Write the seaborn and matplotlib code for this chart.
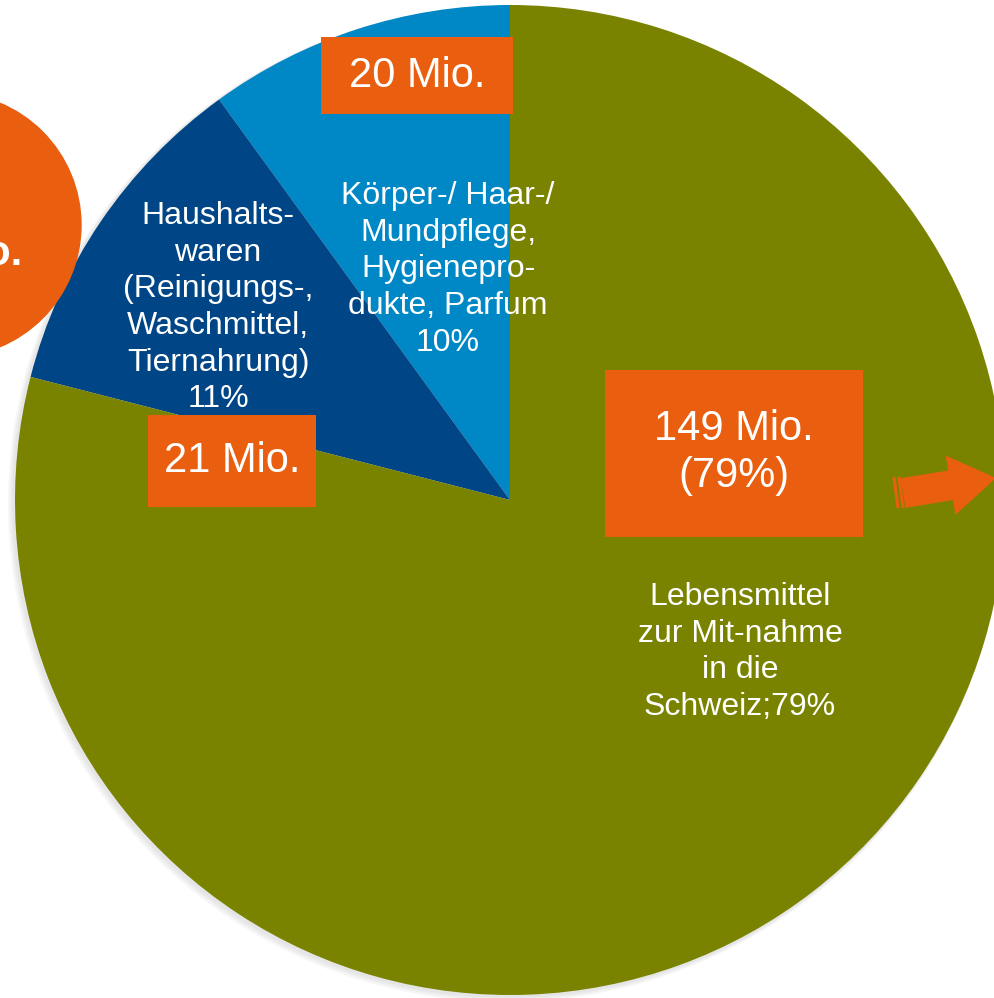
import matplotlib
matplotlib.use("Agg")
import matplotlib.pyplot as plt
from matplotlib.patches import Rectangle, Circle, FancyArrow
import seaborn as sns

# Shopping-tourism spending split (share of total, amount in Mio.)
categories = [
    "Körper-/ Haar-/\nMundpflege,\nHygienepro-\ndukte, Parfum",
    "Haushalts-\nwaren\n(Reinigungs-,\nWaschmittel,\nTiernahrung)",
    "Lebensmittel\nzur Mit-nahme\nin die\nSchweiz",
]
shares = [10, 11, 79]
amounts = [20, 21, 149]
total_label = "190 Mio."

sns.set_theme(style="white")
plt.rcParams["font.family"] = ["Liberation Sans", "DejaVu Sans"]

colors = ["#0088c6", "#004586", "#7a8300"]
orange = "#e95e0f"

W, H = 994, 998
fig = plt.figure(figsize=(W / 100, H / 100), dpi=100)
ax = fig.add_axes([0, 0, 1, 1])

def Y(y):
    return H - y

cx, cy, r = 510, Y(500), 495

# soft drop shadow behind the pie
for k, a in enumerate([0.05, 0.05, 0.05]):
    ax.add_patch(Circle((cx - 2 - k, cy - 2 - k), r + 1 + k, color="#555555",
                        alpha=a, linewidth=0, zorder=0))

ax.pie(shares, colors=colors, startangle=90, counterclock=True,
       center=(cx, cy), radius=r,
       wedgeprops=dict(linewidth=0, antialiased=True, zorder=1))
ax.set_xlim(0, W)
ax.set_ylim(0, H)
ax.set_aspect("equal")
ax.axis("off")

# total bubble on the left
ax.add_patch(Circle((-51, Y(225)), 132, color=orange, zorder=3))
ax.text(22, Y(254), total_label, color="white", fontsize=30, fontweight="bold",
        ha="right", va="center", zorder=4)

# category labels inside the slices
lab_kw = dict(color="white", fontsize=23, ha="center", va="top",
              linespacing=1.29, zorder=4)
ax.text(448, Y(181), f"{categories[0]}\n{shares[0]}%", **lab_kw)
ax.text(218, Y(201), f"{categories[1]}\n{shares[1]}%", **lab_kw)
ax.text(740, Y(582), f"{categories[2]};{shares[2]}%", **lab_kw)

# orange value boxes
def value_box(x0, y0, x1, y1, text, fs=30, dy=0):
    ax.add_patch(Rectangle((x0, Y(y1)), x1 - x0, y1 - y0, color=orange,
                           linewidth=0, zorder=5))
    ax.text((x0 + x1) / 2, Y((y0 + y1) / 2 + dy), text, color="white",
            fontsize=fs, ha="center", va="center", linespacing=1.22, zorder=6)

value_box(321, 37, 513, 114, f"{amounts[0]} Mio.")
value_box(148, 415, 316, 507, f"{amounts[1]} Mio.")
value_box(605, 370, 863, 537, f"{amounts[2]} Mio.\n({shares[2]}%)", dy=-1)

# arrow pointing out of the chart
ax.add_patch(FancyArrow(903, Y(493), 93, 15, width=30, head_width=60,
                        head_length=46, length_includes_head=True,
                        color=orange, linewidth=0, zorder=5))
for dx in (-4, -9):
    ax.plot([903 + dx, 903 + dx + 4], [Y(477), Y(508)], color=orange,
            linewidth=2.2, solid_capstyle="butt", zorder=5)

fig.savefig("out.png", dpi=100)
